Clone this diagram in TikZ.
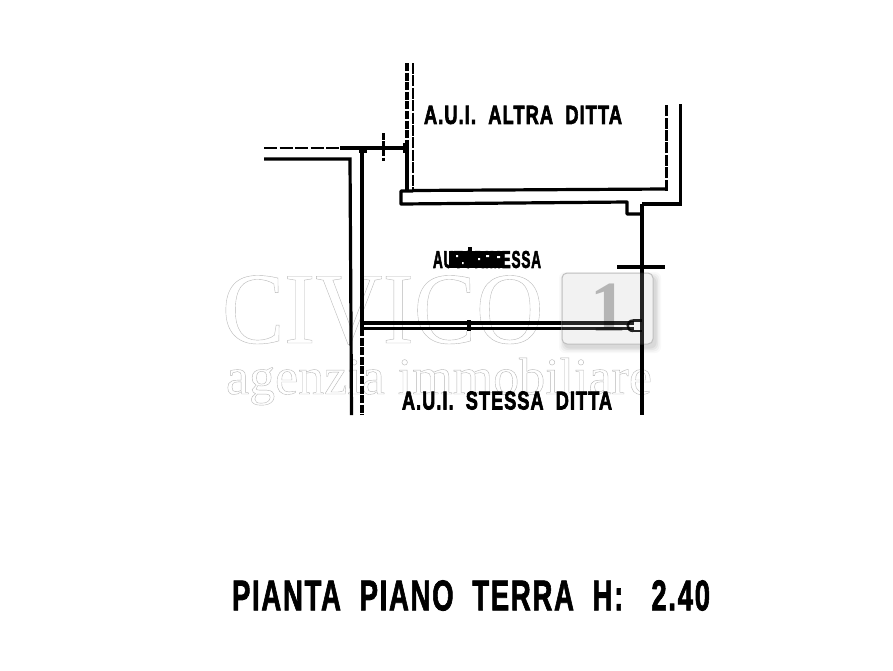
\documentclass[tikz,border=0pt]{standalone}
\usepackage{fontspec}
\setmainfont{Liberation Serif}
\newfontfamily\cadfont[LetterSpace=6]{Liberation Sans}
\definecolor{emboss}{gray}{0.72}
\definecolor{boxedge}{gray}{0.75}
\definecolor{digitgray}{gray}{0.75}
\tikzset{
  wall/.style={line width=3.2pt,black,line cap=butt,line join=miter},
  heavy wall/.style={line width=4.4pt,black},
  dash wall/.style={line width=3.4pt,black,dash pattern=on 8pt off 1.6pt},
  thin dash/.style={line width=2.6pt,black,dash pattern=on 11pt off 1.4pt},
  long dash/.style={line width=2.6pt,black,dash pattern=on 13pt off 2.5pt},
  cad/.style={inner sep=0pt,outer sep=0pt,font=\cadfont\bfseries,anchor=west},
  mark text/.style={inner sep=0pt,outer sep=0pt,anchor=base west,text=emboss}
}
\newcommand{\fatstroke}[2]{\special{pdf:code 2 Tr #1 w}#2\special{pdf:code 0 Tr}}
\newcommand{\linestroke}[1]{\special{pdf:code 1 Tr 0.4 w}#1\special{pdf:code 0 Tr}}
\newcommand{\fitlabel}[4]{\resizebox{#1pt}{#2pt}{\fatstroke{#3}{#4}}}
\begin{document}
\begin{tikzpicture}[x=1pt,y=-1pt]
\useasboundingbox (0,0) rectangle (893,670);
\fill[white] (0,0) rectangle (893,670);
% watermark, under the plan
\node[mark text,font=\fontsize{102}{102}\selectfont] (civico) at (222,343) {\scalebox{0.915}[1]{\linestroke{CIVICO}}};
\node[mark text,font=\fontsize{52}{52}\selectfont] (agenzia) at (226,394) {\linestroke{agenzia immobiliare}};
% named corners of the plan
\coordinate (topL) at (407,63);
\coordinate (topR) at (413,63);
\coordinate (jL) at (408,148);
\coordinate (sillL) at (401,191);
\coordinate (sillTR) at (666,189);
\coordinate (dashTop) at (666,105);
\coordinate (outerTop) at (680.5,104);
\coordinate (outerB) at (680.5,204);
\coordinate (stepR) at (642,204);
\coordinate (stepB) at (642,214);
\coordinate (stepL) at (627,214);
\coordinate (stepT) at (627,202);
\coordinate (lowL) at (401,204);
\coordinate (rightEnd) at (642,415);
\coordinate (upperW) at (264,148);
\coordinate (upperDash) at (340,148);
\coordinate (lowerW) at (264,159);
\coordinate (lowerC) at (350,159);
\coordinate (lowerEnd) at (351.5,415);
\coordinate (innerT) at (362,148);
\coordinate (innerM) at (362,328);
\coordinate (innerEnd) at (362,415);
\coordinate (partA) at (362,323);
\coordinate (partB) at (634,323);
\coordinate (partC) at (362,328.5);
\coordinate (partD) at (634,328.5);
% plan
\draw[dash wall] (topL) -- (407,142);
\draw[wall] (407,142) -- (407,191);
\draw[thin dash] (topR) -- (413,190);
\draw[long dash] (upperW) -- (upperDash);
\draw[wall] (upperDash) -- (jL);
\fill (403,143) rectangle (409,153);
\fill (359,148) rectangle (367,153);
\draw[wall] (lowerW) -- (lowerC) -- (lowerEnd);
\draw[wall,line width=3.6pt] (innerT) -- (innerM);
\draw[dash wall] (innerM) -- (innerEnd);
\draw[wall,line join=round] (413,191) -- (sillL) -- (lowL) -- (stepT) -- (stepL) -- (stepB);
\draw[heavy wall] (stepR) -- (rightEnd);
\draw[wall] (413,190.5) -- (sillTR);
\draw[thin dash,line width=3pt] (666,190.5) -- (dashTop);
\draw[wall] (outerTop) -- (outerB) -- (stepR);
\draw[line width=3pt,dash pattern=on 7pt off 1.2pt] (383,133) -- (383,161);
\draw[wall] (617,267) -- (665,267);
\draw[wall] (partA) -- (partB);
\draw[wall] (partC) -- (partD);
\fill (467,320) rectangle (470.5,331);
\draw[line width=2.4pt] (633,320.5) .. controls (626,320.5) and (626,331) .. (633,331);
\draw[line width=2.4pt] (633,320.5) -- (642,320.5) (633,331) -- (642,331);
% labels
\fill (449,251) rectangle (504,268);
\fill (468,247) rectangle (472,252);
\node[cad] (autorimessa) at (433,259.5) {\fitlabel{108}{17}{0.3}{AUTORIMESSA}};
\fill[white] (456,255) rectangle (458,257) (462,262) rectangle (463.5,264) (486,255) rectangle (489,257) (497,256) rectangle (500,258) (478,258) rectangle (480,260);
\node[cad] (altra) at (424,115) {\fitlabel{198}{18}{0.3}{A.U.I.~~ALTRA~~DITTA}};
\node[cad] (stessa) at (402,400.5) {\fitlabel{210}{18}{0.3}{A.U.I.~~STESSA~~DITTA}};
\node[cad] (title) at (232,595.5) {\fitlabel{478}{30}{0.2}{PIANTA~~PIANO~~TERRA~~H:~~~2.40}};
% logo box over the plan
\foreach \s/\o in {6/0.025,4.5/0.035,3/0.045,1.5/0.05}
  \fill[black,opacity=\o,rounded corners=6pt] (562-\s+3,273-\s+5) rectangle (653+\s+2,344+\s+3);
\fill[white,rounded corners=5pt] (562,273) rectangle (653,344);
\node[inner sep=0pt,text=digitgray,font=\fontsize{72}{72}\selectfont\bfseries] (one) at (608,308) {1};
\draw[boxedge,fill=black,fill opacity=0.05,line width=1pt,rounded corners=5pt] (562,273) rectangle (653,344);
% plan lines show through the logo box
\begin{scope}[opacity=0.85]
\draw[wall] (562,323) -- (634,323);
\draw[wall] (562,328.5) -- (634,328.5);
\draw[heavy wall] (642,268.6) -- (642,350);
\draw[line width=2.4pt] (633,320.5) .. controls (626,320.5) and (626,331) .. (633,331);
\draw[line width=2.4pt] (633,320.5) -- (642,320.5) (633,331) -- (642,331);
\end{scope}
\end{tikzpicture}
\end{document}
